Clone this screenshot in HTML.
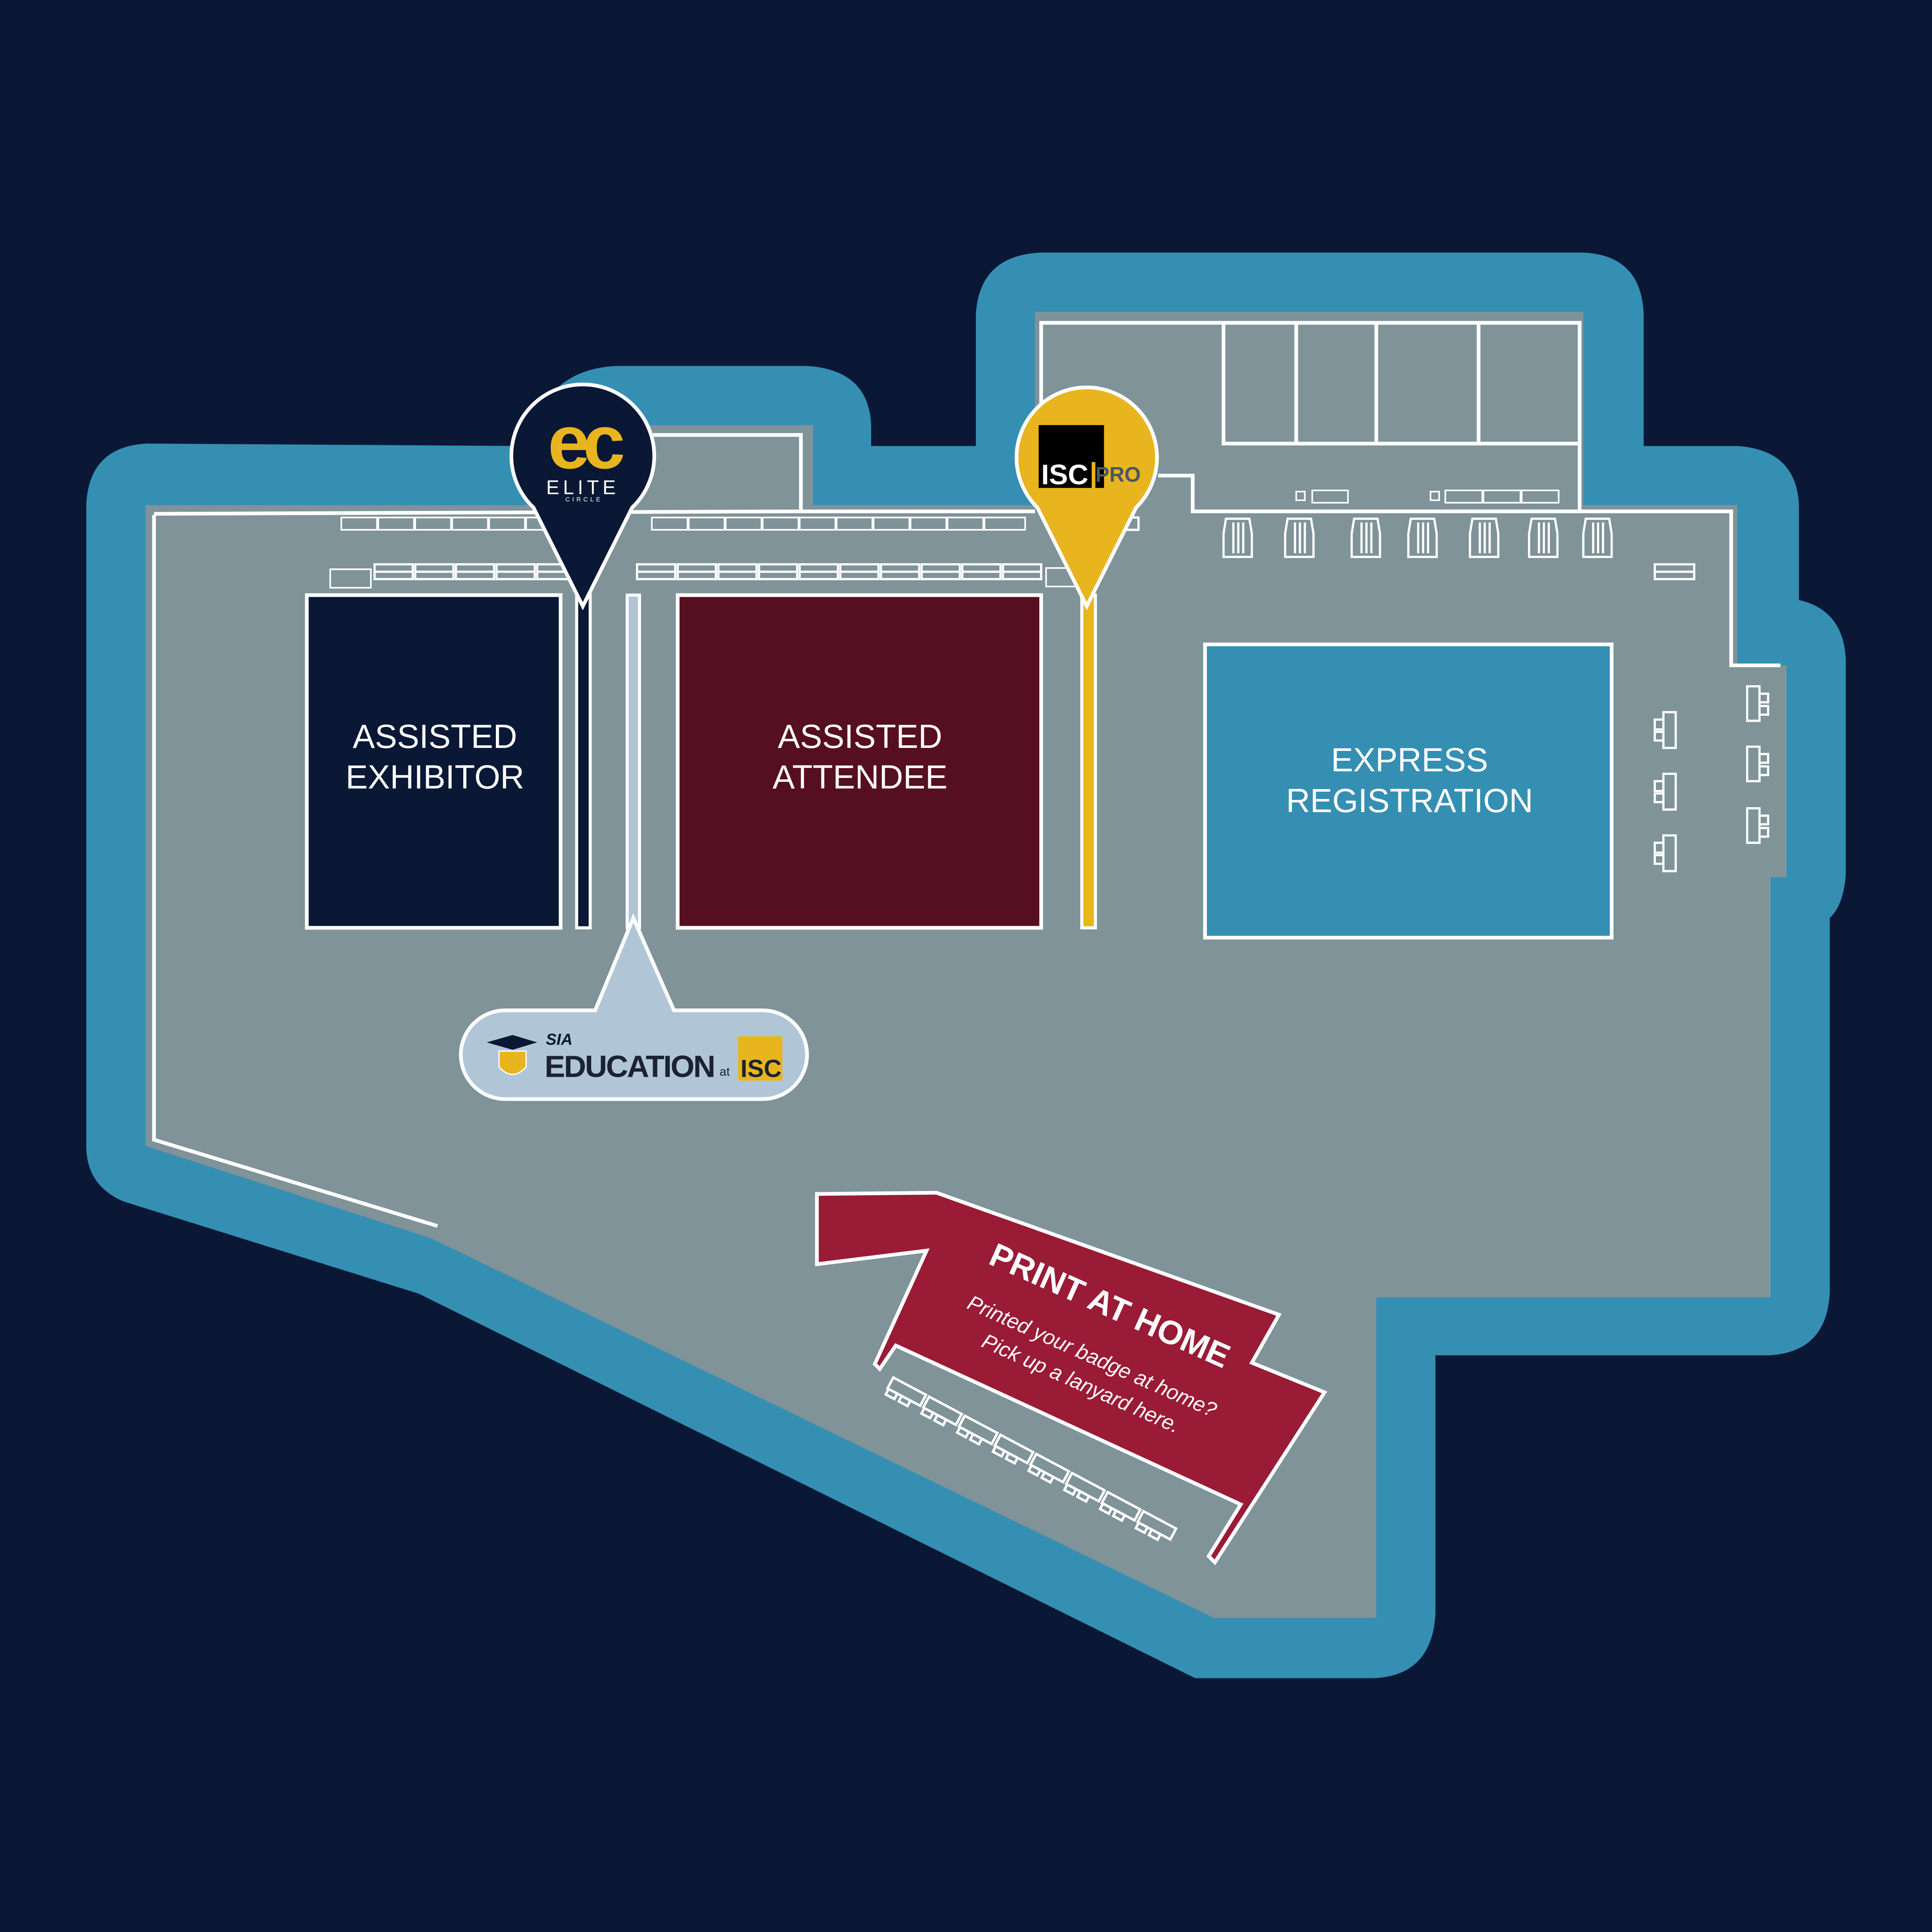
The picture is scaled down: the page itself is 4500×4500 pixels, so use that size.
<!DOCTYPE html>
<html><head><meta charset="utf-8"><style>
html,body{margin:0;padding:0;background:#0a1836;}
svg{display:block;}
text{font-family:"Liberation Sans",sans-serif;}
</style></head><body>
<svg width="4500" height="4500" viewBox="0 0 1568 1568" xmlns="http://www.w3.org/2000/svg">
<rect width="1568" height="1568" fill="#0a1836"/>
<!-- blue outer shape -->
<path fill="#348fb3" d="M120,360 L430,362 Q440,300 500,297 L655,297 Q705,300 707,345 L707,362 L792,362 L792,255 Q795,207 845,205 L1285,205 Q1332,207 1334,255 L1334,362 L1410,362 Q1458,365 1460,410 L1460,487 Q1496,495 1498,535 L1498,710 Q1496,735 1485,745 L1485,1050 Q1482,1098 1435,1100 L1165,1100 L1165,1310 Q1162,1360 1115,1362 L970,1362 L340,1050 L100,975 Q70,962 70,930 L70,410 Q72,362 120,360 Z"/>
<!-- gray floor -->
<path fill="#7f9399" d="M118,410 L460,410 L460,345 L660,345 L660,410 L840,410 L840,253 L1285,253 L1285,410 L1410,410 L1410,540 L1450,540 L1450,712 L1437,712 L1437,1053 L1117,1053 L1117,1313 L985,1313 L350,1005 L118,930 Z"/>
<g fill="none" stroke="#fff" stroke-width="3">
<polyline points="125,418 125,925 355,995"/>
<polyline points="125,417 650,415 650,353 530,353"/>
<polyline points="650,415 840,415"/>
<polyline points="940,386 968,386 968,415 1405,415 1405,540 1445,540"/>
<polyline points="845,415 845,262 1282,262 1282,415"/>
<polyline points="993,262 993,360 1282,360"/>
<line x1="1052" y1="262" x2="1052" y2="360"/>
<line x1="1117" y1="262" x2="1117" y2="360"/>
<line x1="1200" y1="262" x2="1200" y2="360"/>
</g>
<g fill="none" stroke="#fff" stroke-width="1.3">
<rect x="1065" y="398" width="29" height="10"/><rect x="1052" y="399" width="7" height="7"/>
<rect x="1173" y="398" width="30" height="10"/><rect x="1204" y="398" width="30" height="10"/><rect x="1235" y="398" width="30" height="10"/><rect x="1161" y="399" width="7" height="7"/>
<!-- top row tables -->
<rect x="277" y="420" width="29" height="10"/><rect x="307" y="420" width="29" height="10"/><rect x="337" y="420" width="29" height="10"/><rect x="367" y="420" width="29" height="10"/><rect x="397" y="420" width="29" height="10"/><rect x="427" y="420" width="29" height="10"/>
<rect x="529" y="420" width="29" height="10"/><rect x="559" y="420" width="29" height="10"/><rect x="589" y="420" width="29" height="10"/><rect x="619" y="420" width="29" height="10"/><rect x="649" y="420" width="29" height="10"/><rect x="679" y="420" width="29" height="10"/><rect x="709" y="420" width="29" height="10"/><rect x="739" y="420" width="29" height="10"/><rect x="769" y="420" width="29" height="10"/><rect x="799" y="420" width="33" height="10"/>
<rect x="268" y="462" width="33" height="15"/><rect x="849" y="461" width="26" height="15"/>
</g>
<!-- benches -->
<g fill="none" stroke="#fff" stroke-width="1.8">
<g id="bl"><rect x="304" y="458" width="31" height="12"/><line x1="304" y1="464" x2="335" y2="464"/></g>
<use href="#bl" x="33"/><use href="#bl" x="66"/><use href="#bl" x="99"/><use href="#bl" x="132"/>
<g id="br"><rect x="517" y="458" width="31" height="12"/><line x1="517" y1="464" x2="548" y2="464"/></g>
<use href="#br" x="33"/><use href="#br" x="66"/><use href="#br" x="99"/><use href="#br" x="132"/><use href="#br" x="165"/><use href="#br" x="198"/><use href="#br" x="231"/><use href="#br" x="264"/><use href="#br" x="297"/>
<rect x="1343" y="458" width="32" height="12"/><line x1="1343" y1="464" x2="1375" y2="464"/>
<rect x="904" y="420" width="20" height="10"/>
<!-- kiosks -->
<g id="k"><path d="M995,421 L1014,421 L1016,433 L1016,452 L993,452 L993,433 Z"/><line x1="1001" y1="424" x2="1001" y2="449"/><line x1="1005" y1="424" x2="1005" y2="449"/><line x1="1009" y1="424" x2="1009" y2="449"/></g>
<use href="#k" x="50"/><use href="#k" x="104"/><use href="#k" x="150"/><use href="#k" x="200"/><use href="#k" x="248"/><use href="#k" x="292"/>
<!-- side brackets -->
<g id="sb"><path d="M1350,578 L1360,578 L1360,607 L1350,607 Z M1343,584 L1350,584 L1350,592 L1343,592 Z M1343,594 L1350,594 L1350,601 L1343,601 Z"/></g>
<use href="#sb" y="50"/><use href="#sb" y="100"/>
<g id="sb2"><path d="M1418,557 L1428,557 L1428,585 L1418,585 Z M1428,563 L1435,563 L1435,570 L1428,570 Z M1428,573 L1435,573 L1435,580 L1428,580 Z"/></g>
<use href="#sb2" y="49"/><use href="#sb2" y="99"/>
</g>
<!-- booths -->
<rect x="249" y="483" width="206" height="270" fill="#0a1836" stroke="#fff" stroke-width="3"/>
<rect x="550" y="483" width="295" height="270" fill="#560f1f" stroke="#fff" stroke-width="3"/>
<rect x="978" y="523" width="330" height="238" fill="#348fb3" stroke="#fff" stroke-width="3"/>
<rect x="468" y="483" width="11" height="270" fill="#0a1836" stroke="#fff" stroke-width="2.5"/>
<rect x="509" y="483" width="10" height="270" fill="#b0c4d4" stroke="#fff" stroke-width="2.5"/>
<rect x="878" y="483" width="11" height="270" fill="#e8b51e" stroke="#fff" stroke-width="2.5"/>
<g fill="#fff" font-size="27" text-anchor="middle">
<text x="353" y="607">ASSISTED</text><text x="353" y="640">EXHIBITOR</text>
<text x="698" y="607">ASSISTED</text><text x="698" y="640">ATTENDEE</text>
<text x="1144" y="626">EXPRESS</text><text x="1144" y="659">REGISTRATION</text>
</g>
<!-- education bubble -->
<path d="M410,820 L483,820 L514,745 L547,820 L619,820 A36,36 0 0 1 619,892 L410,892 A36,36 0 0 1 410,820 Z" fill="#b0c6d6" stroke="#fff" stroke-width="3"/>
<path d="M395,846 L416,840 L436,846 L416,852 Z" fill="#0a1836"/>
<path d="M405,853 L427,853 L427,866 Q416,878 405,866 Z" fill="#e8b51e" stroke="#fff" stroke-width="1"/>
<text x="443" y="848" font-size="13" font-weight="bold" font-style="italic" fill="#0a1836">SIA</text>
<text x="442" y="874" font-size="25" font-weight="bold" fill="#1b2233" letter-spacing="-1">EDUCATION</text>
<text x="584" y="873" font-size="10" fill="#1b2233">at</text>
<rect x="599" y="841" width="36" height="36" fill="#e8b51e"/>
<text x="601" y="874" font-size="20" font-weight="bold" fill="#1b2233">ISC</text>
<!-- EC pin -->
<path d="M433,412 A58,58 0 1 1 513,412 L473,492 Z" fill="#0a1836" stroke="#fff" stroke-width="3"/>
<text x="473" y="380" font-size="62" fill="#e8b51e" text-anchor="middle" font-weight="bold" letter-spacing="-6">ec</text>
<text x="473" y="401" font-size="16" fill="#fff" text-anchor="middle" letter-spacing="3">ELITE</text>
<text x="474" y="407" font-size="5" fill="#fff" text-anchor="middle" letter-spacing="2">CIRCLE</text>
<!-- ISC PRO pin -->
<path d="M842,412 A57,57 0 1 1 922,412 L882,492 Z" fill="#e8b51e" stroke="#fff" stroke-width="3"/>
<rect x="843" y="345" width="53" height="51" fill="#000"/>
<text x="845" y="393" font-size="23" font-weight="bold" fill="#fff">ISC</text>
<rect x="886" y="375" width="3" height="21" fill="#e8b51e"/>
<text x="889" y="391" font-size="17" font-weight="bold" fill="#4a5566">PRO</text>
<!-- print at home -->
<polygon points="663,969 760,968 1038,1067 1016,1106 1075,1130 986,1268 981,1263 1007,1221 727,1092 714,1111 710,1107 752,1015 663,1026" fill="#9a1b36" stroke="#fff" stroke-width="3"/>
<text transform="translate(897,1068) rotate(24)" font-size="27" font-weight="bold" fill="#fff" text-anchor="middle">PRINT AT HOME</text>
<text transform="translate(884,1106) rotate(24)" font-size="17" font-style="italic" fill="#fff" text-anchor="middle">Printed your badge at home?</text>
<text transform="translate(875,1128) rotate(24)" font-size="17" font-style="italic" fill="#fff" text-anchor="middle">Pick up a lanyard here.</text>
<g fill="none" stroke="#fff" stroke-width="2">
<g id="ch" transform="translate(725,1118) rotate(28)"><rect x="0" y="0" width="30" height="10"/><rect x="1" y="10" width="8" height="5"/><rect x="13" y="10" width="8" height="5"/></g>
<use href="#ch" x="29" y="15.5"/><use href="#ch" x="58" y="31"/><use href="#ch" x="87" y="46.5"/><use href="#ch" x="116" y="62"/><use href="#ch" x="145" y="77.5"/><use href="#ch" x="174" y="93"/><use href="#ch" x="203" y="108.5"/>
</g>
</svg>
</body></html>
